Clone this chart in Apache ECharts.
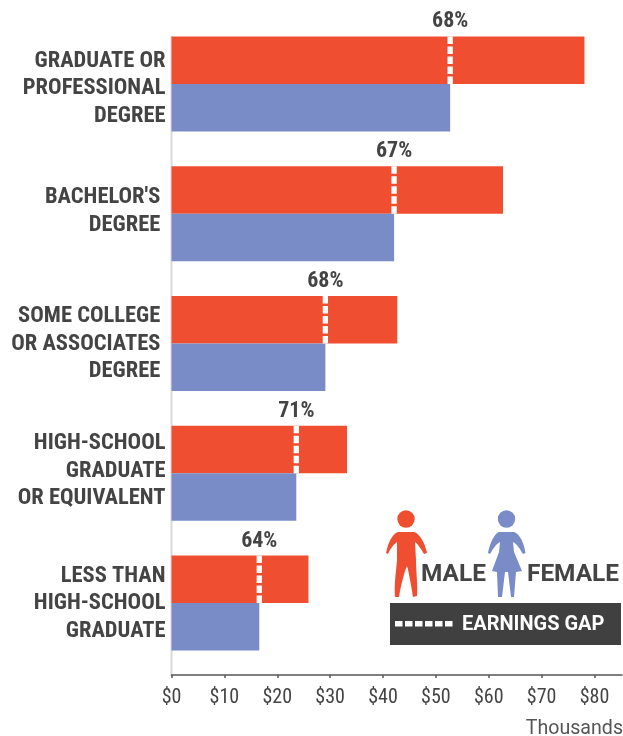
<!DOCTYPE html>
<html>
<head>
<meta charset="utf-8">
<style>html,body{margin:0;padding:0;background:#fff}#main{width:623px;height:736px}</style>
<script src="https://cdn.jsdelivr.net/npm/echarts@6/dist/echarts.min.js"></script>
</head>
<body>
<div id="main"></div>
<script>
var categories = ['GRADUATE OR\nPROFESSIONAL\nDEGREE', "BACHELOR'S\u00a0\nDEGREE\u00a0", 'SOME COLLEGE\u00a0\nOR ASSOCIATES\u00a0\nDEGREE\u00a0', 'HIGH-SCHOOL\nGRADUATE\nOR EQUIVALENT', 'LESS THAN\nHIGH-SCHOOL\nGRADUATE'];
var male = [78.1, 62.7, 42.7, 33.2, 25.9];
var female = [52.7, 42.1, 29.1, 23.6, 16.6];
var gapLabels = ['68%', '67%', '68%', '71%', '64%'];

var narrow = '"Roboto Condensed","Liberation Sans Narrow",Roboto,sans-serif';
var dark = '#444444';
var red = '#F04E30';
var blue = '#7A8CC7';

// the labels in the original do not sit exactly on the band centres,
// a thin empty line above or below pushes each block into place
var labelShift = [4.5, -2.5, 0.5, -2, 0.5];
var labelRich = { line: { lineHeight: 27.5 } };
labelShift.forEach(function (s, i) {
    labelRich['sp' + i] = { fontSize: 1, lineHeight: 2 * Math.abs(s) };
});

// the two little figures in the key
echarts.graphic.registerShape('maleFigure', echarts.graphic.extendPath('M398,532 L414,532 C420,534 425,543 427,553 L424,554 C421,549 418,544 415,542 L416,560 C416,572 418,585 417,596 L413,597 C411,585 409,573 407,566 C404,573 401,585 399,597 L395,597 C394,585 396,572 397,560 L397,542 C394,544 390,549 388,554 L386,553 C388,543 392,534 398,532 Z'));
echarts.graphic.registerShape('femaleFigure', echarts.graphic.extendPath('M499,532 L514,532 C520,534 524,543 525.5,553 L523,554 C520,549 517,544 513,542 L514,552 L522,571 L516,572 L514,597 L511,597 L508,572 L505,572 L502,597 L498,597 L497,572 L492,571 L499,552 L500,542 C496,544 493,549 490,554 L488,553 C490,543 494,534 499,532 Z'));

var chart = echarts.init(document.getElementById('main'));

var option = {
    animation: false,
    grid: { left: 171.5, right: 1, top: 19, height: 649, outerBoundsMode: 'none' },
    xAxis: {
        type: 'value',
        min: 0,
        max: 85.2,
        interval: 10,
        offset: 7,
        splitLine: { show: false },
        axisLine: { show: true, lineStyle: { color: '#555', width: 1.5 } },
        axisTick: { show: true, length: 3, lineStyle: { color: '#555', width: 1.5 } },
        axisLabel: { color: dark, fontFamily: narrow, fontSize: 20, margin: 13, formatter: '${value}', showMaxLabel: false },
        name: 'Thousands',
        nameLocation: 'end',
        nameGap: 1,
        nameTextStyle: { color: '#555', fontFamily: 'Roboto', fontSize: 19.6, align: 'right', verticalAlign: 'top', padding: [44, 0, 0, 0] }
    },
    yAxis: {
        type: 'category',
        inverse: true,
        data: categories,
        axisLine: { show: false },
        axisTick: { show: false },
        axisLabel: {
            color: dark,
            fontFamily: narrow,
            fontSize: 22.5,
            fontWeight: 'bold',
            lineHeight: 27.5,
            margin: 6,
            align: 'right',
            rich: labelRich,
            formatter: function (value) {
                var i = categories.indexOf(value);
                var lines = value.split('\n').map(function (line) {
                    return '{line|' + line + '}';
                });
                var spacer = '{sp' + i + '|\u00a0}';
                if (labelShift[i] > 0) lines.unshift(spacer);
                else lines.push(spacer);
                return lines.join('\n');
            }
        }
    },
    series: [
        { name: 'Male', type: 'bar', barWidth: 47.5, barGap: 0, itemStyle: { color: red }, data: male },
        { name: 'Female', type: 'bar', barWidth: 47.5, itemStyle: { color: blue }, data: female },
        {
            name: 'Earnings gap',
            type: 'custom',
            z: 5,
            data: female,
            encode: { x: 0 },
            renderItem: function (params, api) {
                var p = api.coord([api.value(0), params.dataIndex]);
                return {
                    type: 'group',
                    children: [
                        { type: 'line', shape: { x1: p[0], y1: p[1], x2: p[0], y2: p[1] - 47.5 },
                          style: { stroke: '#fff', lineWidth: 5.3, lineDash: [7.5, 2.5] } },
                        { type: 'text', style: { x: p[0], y: p[1] - 51, text: gapLabels[params.dataIndex],
                          fill: dark, font: 'bold 22px ' + narrow, textAlign: 'center', textVerticalAlign: 'bottom' } }
                    ]
                };
            }
        }
    ],
    graphic: [
        { type: 'circle', shape: { cx: 406, cy: 519, r: 8.7 }, style: { fill: red } },
        { type: 'maleFigure', style: { fill: red } },
        { type: 'circle', shape: { cx: 506.5, cy: 519, r: 8.7 }, style: { fill: blue } },
        { type: 'femaleFigure', style: { fill: blue } },
        { type: 'text', style: { x: 421, y: 575, text: 'MALE', fill: dark, font: 'bold 24.4px Roboto', textVerticalAlign: 'middle' } },
        { type: 'text', style: { x: 527, y: 575, text: 'FEMALE', fill: dark, font: 'bold 24.4px Roboto', textVerticalAlign: 'middle' } },
        { type: 'rect', shape: { x: 390, y: 603, width: 231, height: 42 }, style: { fill: '#404040' } },
        { type: 'line', shape: { x1: 395, y1: 623.7, x2: 453, y2: 623.7 }, style: { stroke: '#fff', lineWidth: 5.5, lineDash: [7.5, 2.5] } },
        { type: 'text', style: { x: 462, y: 625, text: 'EARNINGS GAP', fill: '#fff', font: 'bold 20px Roboto', textVerticalAlign: 'middle' } },
        // light vertical rule from the first bar down to the value axis
        { type: 'line', z: -1, shape: { x1: 171.5, y1: 36, x2: 171.5, y2: 675 }, style: { stroke: '#d9d9d9', lineWidth: 2 } }
    ]
};
chart.setOption(option);
</script>
</body>
</html>
